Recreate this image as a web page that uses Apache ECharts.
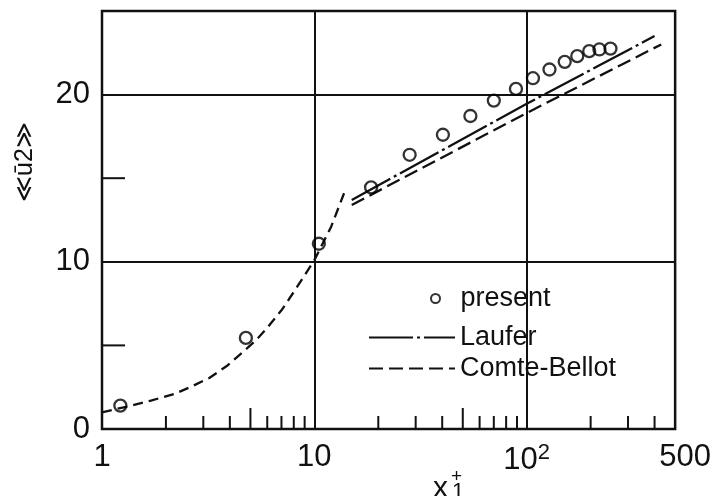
<!DOCTYPE html>
<html>
<head>
<meta charset="utf-8">
<script src="https://cdn.jsdelivr.net/npm/echarts@6/dist/echarts.min.js"></script>
<style>html,body{margin:0;padding:0;background:#fff}#c{width:714px;height:496px}</style>
</head>
<body>
<div id="c"></div>
<script>
// Data
var presentX = [1.22, 4.76, 10.5, 18.5, 28.1, 40.3, 54.3, 70, 89, 107, 128, 151, 173, 197, 220, 248];
var presentY = [1.4, 5.45, 11.08, 14.45, 16.4, 17.6, 18.72, 19.64, 20.34, 20.98, 21.5, 21.96, 22.3, 22.6, 22.7, 22.75];
var lauferX = [15, 100, 400];
var lauferY = [13.7, 19.45, 23.5];
var comteX = [15, 100, 430];
var comteY = [13.4, 18.9, 23.0];
var wallX = [1, 1.3, 1.7, 2.2, 2.7, 3.2, 3.9, 4.6, 5.3, 5.95, 7, 8.2, 10, 12, 13.8];
var wallY = [1.0, 1.33, 1.7, 2.1, 2.6, 3.05, 3.8, 4.6, 5.3, 6.0, 7.1, 8.4, 10.1, 12.1, 14.1];
var xMinorTicks = [2, 3, 4, 6, 7, 8, 9, 20, 30, 40, 60, 70, 80, 90, 200, 300, 400];
var xMidTicks = [5, 50];
var yMinorTicks = [5, 15];
var seriesNames = ['present', 'Laufer', 'Comte-Bellot'];

function zip(a, b) { return a.map(function (v, i) { return [v, b[i]]; }); }

var chart = echarts.init(document.getElementById('c'), null, {renderer: 'canvas'});
var INK = '#111';
var numFont = '"Liberation Sans", Arial, sans-serif';
var txtFont = '"Liberation Sans", Arial, sans-serif';

function tickSeries(name, values, len, vertical) {
  return {
    type: 'custom', name: name, silent: true, z: 5,
    data: values.map(function (v) { return vertical ? [v, 0] : [1, v]; }),
    renderItem: function (params, api) {
      var p = api.coord([api.value(0), api.value(1)]);
      var shape = vertical
        ? {x1: p[0], y1: p[1], x2: p[0], y2: p[1] - len}
        : {x1: p[0], y1: p[1], x2: p[0] + len, y2: p[1]};
      return {type: 'line', shape: shape, style: {stroke: INK, lineWidth: 2}};
    }
  };
}

var option = {
  backgroundColor: '#fff',
  animation: false,
  grid: {left: 102, right: 38, top: 11, bottom: 67, show: true, borderColor: INK, borderWidth: 2.5, backgroundColor: 'transparent'},
  xAxis: {
    type: 'log', logBase: 10, min: 1, max: 500,
    axisLine: {show: false}, axisTick: {show: false},
    splitLine: {show: true, lineStyle: {color: INK, width: 2}},
    axisLabel: {
      margin: 13, color: INK, fontFamily: numFont, fontSize: 31,
      formatter: function (v) {
        if (v < 1.5) return '1';
        if (Math.abs(v - 10) < 0.5) return '10';
        if (Math.abs(v - 100) < 1) return '{n|10}{s|2}';
        return '{r|500}';
      },
      rich: {
        n: {fontFamily: numFont, fontSize: 31, color: INK},
        s: {fontFamily: numFont, fontSize: 22, color: INK, verticalAlign: 'top', padding: [0, 0, 14, 0]},
        r: {fontFamily: numFont, fontSize: 31, color: INK, padding: [0, 0, 0, 20]}
      }
    }
  },
  yAxis: {
    type: 'value', min: 0, max: 25, interval: 10,
    axisLine: {show: false}, axisTick: {show: false},
    splitLine: {show: true, lineStyle: {color: INK, width: 2}},
    axisLabel: {
      margin: 12, color: INK, fontFamily: numFont, fontSize: 31,
      formatter: function (v) { return v > 24 ? '' : String(v); }
    }
  },
  legend: [
    {
      data: [seriesNames[0]], left: 425, top: 280, itemWidth: 40, itemHeight: 9,
      textStyle: {fontFamily: txtFont, fontSize: 27, color: INK}
    },
    {
      data: [seriesNames[1], seriesNames[2]], orient: 'vertical', left: 368, top: 324, padding: 0,
      itemWidth: 86, itemHeight: 12, itemGap: 4,
      itemStyle: {color: 'rgba(0,0,0,0)', borderWidth: 0, opacity: 0},
      textStyle: {fontFamily: txtFont, fontSize: 27, color: INK}
    }
  ],
  graphic: [
    {type: 'text', x: 25, y: 162, rotation: Math.PI / 2,
      style: {text: '\u226Au\u03042\u226B', fontFamily: txtFont, fontSize: 25, fill: INK, align: 'center', verticalAlign: 'middle'}},
    {type: 'text', x: 433, y: 489,
      style: {text: 'x', fontFamily: txtFont, fontSize: 30, fill: INK, align: 'left', verticalAlign: 'middle'}},
    {type: 'text', x: 452, y: 492,
      style: {text: '1', fontFamily: numFont, fontSize: 22, fill: INK, align: 'left', verticalAlign: 'middle'}},
    {type: 'text', x: 451, y: 477,
      style: {text: '+', fontFamily: txtFont, fontSize: 19, fill: INK, align: 'left', verticalAlign: 'middle'}}
  ],
  series: [
    {
      name: seriesNames[0], type: 'scatter', z: 10,
      data: zip(presentX, presentY), symbol: 'circle', symbolSize: 12,
      itemStyle: {color: 'rgba(255,255,255,0)', borderColor: '#000', borderWidth: 2.3}
    },
    {
      name: seriesNames[1], type: 'line', z: 8,
      data: zip(lauferX, lauferY), symbol: 'none', showSymbol: false,
      lineStyle: {color: INK, width: 2.3, type: [44, 4, 3, 4]},
      itemStyle: {color: INK}
    },
    {
      name: seriesNames[2], type: 'line', z: 8,
      data: zip(comteX, comteY), symbol: 'none', showSymbol: false,
      lineStyle: {color: INK, width: 2.3, type: [14, 6]},
      itemStyle: {color: INK}
    },
    {
      name: 'wall', type: 'line', z: 8,
      data: zip(wallX, wallY), symbol: 'none', showSymbol: false,
      lineStyle: {color: INK, width: 2.3, type: [10, 6]}
    },
    tickSeries('xt1', xMinorTicks, 13, true),
    tickSeries('xt2', xMidTicks, 21, true),
    tickSeries('yt', yMinorTicks, 23, false)
  ]
};
chart.setOption(option);
</script>
</body>
</html>
